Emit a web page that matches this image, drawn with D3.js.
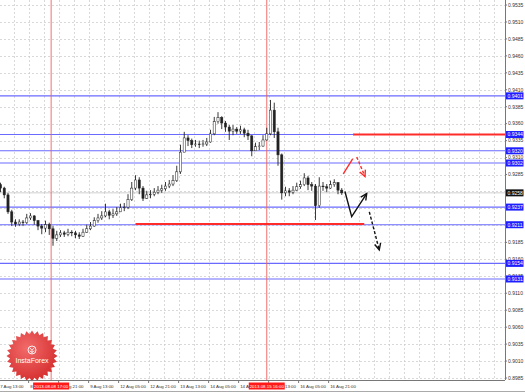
<!DOCTYPE html>
<html>
<head>
<meta charset="utf-8">
<script src="https://cdn.jsdelivr.net/npm/d3@7"></script>
<style>
  body { margin: 0; background: #fff; }
  text { font-family: "Liberation Sans", Arial, sans-serif; }
</style>
</head>
<body>
<script>
// 2-hour candles, USD/CHF-like quotes
const opens = [0.9270,0.9265,0.9255,0.9230,0.9215,0.9212,0.9215,0.9214,0.9221,0.9224,
  0.9217,0.9209,0.9206,0.9211,0.9205,0.9191,0.9196,0.9199,0.9197,0.9200,
  0.9199,0.9196,0.9194,0.9200,0.9205,0.9209,0.9217,0.9221,0.9224,0.9230,
  0.9225,0.9227,0.9230,0.9236,0.9237,0.9248,0.9265,0.9277,0.9265,0.9250,
  0.9255,0.9256,0.9259,0.9262,0.9264,0.9268,0.9271,0.9276,0.9289,0.9318,
  0.9339,0.9335,0.9329,0.9330,0.9329,0.9330,0.9333,0.9345,0.9363,0.9369,
  0.9361,0.9355,0.9349,0.9352,0.9349,0.9351,0.9346,0.9342,0.9320,0.9326,
  0.9327,0.9336,0.9345,0.9380,0.9348,0.9314,0.9258,0.9261,0.9259,0.9262,
  0.9267,0.9270,0.9280,0.9270,0.9268,0.9239,0.9268,0.9267,0.9265,0.9270,
  0.9273,0.9262];
const highs = [0.9273,0.9267,0.9258,0.9233,0.9219,0.9219,0.9218,0.9227,0.9228,0.9225,
  0.9218,0.9212,0.9217,0.9214,0.9209,0.9202,0.9203,0.9202,0.9205,0.9203,
  0.9202,0.9200,0.9205,0.9211,0.9215,0.9222,0.9227,0.9231,0.9242,0.9233,
  0.9234,0.9237,0.9242,0.9243,0.9256,0.9274,0.9284,0.9281,0.9268,0.9261,
  0.9262,0.9265,0.9268,0.9270,0.9274,0.9277,0.9284,0.9298,0.9329,0.9348,
  0.9343,0.9338,0.9336,0.9335,0.9336,0.9339,0.9351,0.9370,0.9377,0.9371,
  0.9364,0.9358,0.9358,0.9355,0.9357,0.9354,0.9351,0.9343,0.9332,0.9333,
  0.9343,0.9354,0.9395,0.9391,0.9354,0.9316,0.9267,0.9265,0.9268,0.9273,
  0.9276,0.9287,0.9283,0.9274,0.9271,0.9281,0.9274,0.9271,0.9276,0.9278,
  0.9274,0.9265];
const lows = [0.9259,0.9250,0.9227,0.9209,0.9208,0.9209,0.9209,0.9212,0.9218,0.9211,
  0.9203,0.9197,0.9200,0.9196,0.9180,0.9187,0.9193,0.9193,0.9194,0.9194,
  0.9191,0.9190,0.9193,0.9199,0.9203,0.9208,0.9214,0.9218,0.9222,0.9219,
  0.9221,0.9224,0.9230,0.9231,0.9234,0.9246,0.9262,0.9256,0.9246,0.9249,
  0.9250,0.9253,0.9256,0.9258,0.9261,0.9265,0.9268,0.9274,0.9286,0.9318,
  0.9327,0.9324,0.9326,0.9324,0.9326,0.9327,0.9332,0.9343,0.9360,0.9352,
  0.9348,0.9336,0.9343,0.9345,0.9345,0.9340,0.9336,0.9312,0.9320,0.9321,
  0.9326,0.9335,0.9343,0.9339,0.9298,0.9248,0.9253,0.9253,0.9256,0.9261,
  0.9264,0.9268,0.9262,0.9261,0.9218,0.9236,0.9261,0.9259,0.9264,0.9267,
  0.9256,0.9255];
const closes = [0.9265,0.9255,0.9230,0.9215,0.9212,0.9215,0.9214,0.9221,0.9224,0.9217,
  0.9209,0.9206,0.9211,0.9205,0.9191,0.9196,0.9199,0.9197,0.9200,0.9199,
  0.9196,0.9194,0.9200,0.9205,0.9209,0.9217,0.9221,0.9224,0.9230,0.9225,
  0.9227,0.9230,0.9236,0.9237,0.9248,0.9265,0.9277,0.9265,0.9250,0.9255,
  0.9256,0.9259,0.9262,0.9264,0.9268,0.9271,0.9276,0.9289,0.9318,0.9339,
  0.9335,0.9329,0.9330,0.9329,0.9330,0.9333,0.9345,0.9363,0.9369,0.9361,
  0.9355,0.9349,0.9352,0.9349,0.9351,0.9346,0.9342,0.9320,0.9326,0.9327,
  0.9336,0.9345,0.9380,0.9348,0.9314,0.9258,0.9261,0.9259,0.9262,0.9267,
  0.9270,0.9280,0.9270,0.9268,0.9239,0.9268,0.9267,0.9265,0.9270,0.9273,
  0.9262,0.9258];

const priceTicks = [0.9535,0.9510,0.9485,0.9460,0.9435,0.9410,0.9385,0.9360,0.9335,0.9310,
  0.9285,0.9260,0.9235,0.9210,0.9185,0.9160,0.9135,0.9110,0.9085,0.9060,0.9035,0.9010,0.8985];
const timeLabels = ["7 Aug 13:00","8 Aug 05:00","8 Aug 21:00","9 Aug 13:00","12 Aug 05:00","12 Aug 21:00",
  "13 Aug 13:00","14 Aug 05:00","14 Aug 21:00","15 Aug 13:00","16 Aug 05:00","16 Aug 21:00"];
const timeLabelHours = [-1,15,31,47,63,79,95,111,127,143,159,175];   // trading hours from 7 Aug 14:00

const levels = [0.9401,0.9344,0.9320,0.9302,0.9237,0.9211,0.9154,0.9131];
const lastPrice = 0.9258;
const markerLabels = ["2013.08.08 17:00","2013.08.15 16:00"];
const markerHours = [27,142];
const redLevels = [0.9344,0.9212];
const redFrom = [188,72];
const redTo = [270,194];

// hand-drawn forecast arrows: [hour, price]
const arrowRedUp = [[182.8,0.9286],[187.8,0.9308]];
const arrowRedDown = [[190,0.9311],[194.4,0.9282]];
const arrowBlackZig = [[183.7,0.9260],[187.3,0.9223],[195.3,0.9257]];
const arrowBlackDown = [[196.7,0.9230],[202,0.9174]];

const W = 525, H = 392;
const plotRight = 505, plotBottom = 380;
const x = d3.scaleLinear([0,184],[0.5,345.5]);
const y = d3.scaleLinear([0.8985,0.9535],[378,5]);

const svg = d3.select("body").append("svg").attr("width",W).attr("height",H);

// grid
svg.append("g").selectAll("line").data(priceTicks).join("line")
  .attr("x1",0).attr("x2",plotRight).attr("y1",d => Math.round(y(d))+0.5).attr("y2",d => Math.round(y(d))+0.5)
  .attr("stroke","#c8c8c8").attr("stroke-width",0.7).attr("stroke-dasharray","2,2");
svg.append("g").selectAll("line").data(d3.range(-1,270,8)).join("line")
  .attr("x1",d => Math.round(x(d))+0.5).attr("x2",d => Math.round(x(d))+0.5)
  .attr("y1",0).attr("y2",plotBottom)
  .attr("stroke","#c8c8c8").attr("stroke-width",0.7).attr("stroke-dasharray","2,2");

// blue levels
svg.append("g").selectAll("line").data(levels).join("line")
  .attr("x1",0).attr("x2",plotRight).attr("y1",d => y(d)).attr("y2",d => y(d))
  .attr("stroke","#6a6aff").attr("stroke-width",1.1);

// bid line
svg.append("line").attr("x1",0).attr("x2",plotRight).attr("y1",y(lastPrice)).attr("y2",y(lastPrice))
  .attr("stroke","#c4c4c4").attr("stroke-width",0.8);

// red vertical markers
svg.append("g").selectAll("line").data(markerHours).join("line")
  .attr("x1",d => x(d)).attr("x2",d => x(d)).attr("y1",0).attr("y2",plotBottom)
  .attr("stroke","#f06060").attr("stroke-width",0.9);

// candles
const candles = svg.append("g");
opens.forEach((o,i) => {
  const cx = x(i*2), c = closes[i];
  candles.append("line").attr("x1",cx).attr("x2",cx).attr("y1",y(highs[i])).attr("y2",y(lows[i]))
    .attr("stroke","#222").attr("stroke-width",0.9);
  const top = y(Math.max(o,c)), bot = y(Math.min(o,c));
  candles.append("rect").attr("x",cx-1.1).attr("width",2.2)
    .attr("y",top).attr("height",Math.max(0.6,bot-top))
    .attr("fill",c >= o ? "#fff" : "#222").attr("stroke","#222").attr("stroke-width",0.5);
});

// red level segments
svg.append("g").selectAll("line").data(redLevels).join("line")
  .attr("x1",(d,i) => x(redFrom[i])).attr("x2",(d,i) => Math.min(plotRight,x(redTo[i])))
  .attr("y1",d => y(d)).attr("y2",d => y(d))
  .attr("stroke","#ff2a2a").attr("stroke-width",2);

// arrows
function drawArrow(pts, color, dashed, head) {
  const line = d3.line().x(d => x(d[0])).y(d => y(d[1]));
  svg.append("path").attr("d",line(pts)).attr("fill","none").attr("stroke",color)
    .attr("stroke-width",1.4).attr("stroke-dasharray",dashed ? "3,2" : null);
  if (!head) return;
  const a = pts[pts.length-2], b = pts[pts.length-1];
  const x1 = x(a[0]), y1 = y(a[1]), x2 = x(b[0]), y2 = y(b[1]);
  const ang = Math.atan2(y2-y1,x2-x1), len = 7;
  const p = [-0.45,0.45].map(s => [x2 - len*Math.cos(ang+s), y2 - len*Math.sin(ang+s)]);
  svg.append("path").attr("d",`M${p[0]}L${x2},${y2}L${p[1]}`).attr("fill","none")
    .attr("stroke",color).attr("stroke-width",1.4);
}
drawArrow(arrowRedUp,"#ff2a2a",false,false);
drawArrow(arrowRedDown,"#ff2a2a",true,true);
drawArrow(arrowBlackZig,"#111",false,true);
drawArrow(arrowBlackDown,"#111",true,true);

// logo seal
const defs = svg.append("defs");
const grad = defs.append("radialGradient").attr("id","seal").attr("cx","40%").attr("cy","35%").attr("r","70%");
grad.append("stop").attr("offset","0%").attr("stop-color","#f26a6a");
grad.append("stop").attr("offset","100%").attr("stop-color","#d42c2c");
const sealPts = d3.range(56).map(i => [i/56*2*Math.PI, i%2 ? 22 : 25.5]);
const seal = svg.append("g").attr("transform","translate(32,356)");
seal.append("path").attr("d",d3.lineRadial().curve(d3.curveLinearClosed)(sealPts)).attr("fill","url(#seal)");
seal.append("circle").attr("cy",-6).attr("r",4).attr("fill","none").attr("stroke","#fff").attr("stroke-width",0.9);
seal.append("path").attr("d","M-2.2,-8.2L0,-5.8L2.2,-8.2M0,-5.8V-2.6M-2.4,-5.2L0,-3.6L2.4,-5.2")
  .attr("fill","none").attr("stroke","#fff").attr("stroke-width",0.8);
seal.append("text").attr("y",7).attr("text-anchor","middle").attr("fill","#fff")
  .attr("font-size",7).text("InstaForex");

// axes frame
svg.append("line").attr("x1",plotRight+0.5).attr("x2",plotRight+0.5).attr("y1",0).attr("y2",plotBottom)
  .attr("stroke","#777").attr("stroke-width",1);
svg.append("line").attr("x1",0).attr("x2",plotRight).attr("y1",plotBottom+0.5).attr("y2",plotBottom+0.5)
  .attr("stroke","#777").attr("stroke-width",1);
svg.append("line").attr("x1",0).attr("x2",W).attr("y1",H-0.5).attr("y2",H-0.5)
  .attr("stroke","#aaa").attr("stroke-width",1);

// price axis: tick labels sitting right under a level label are hidden, as in the terminal
const boxed = levels.concat([lastPrice]);
const shownTicks = priceTicks.filter(t => d3.min(boxed, b => Math.abs(y(b)-y(t))) > 2.5);
const pAxis = svg.append("g");
pAxis.selectAll("line").data(priceTicks).join("line")
  .attr("x1",plotRight).attr("x2",plotRight+2).attr("y1",d => y(d)).attr("y2",d => y(d)).attr("stroke","#777");
pAxis.selectAll("text").data(shownTicks).join("text")
  .attr("x",plotRight+3).attr("y",d => y(d)+1.8).attr("font-size",5).attr("fill","#333")
  .text(d => d.toFixed(4));

// level labels
const lvl = svg.append("g").selectAll("g").data(levels).join("g")
  .attr("transform",d => `translate(${plotRight+1},${y(d)})`);
lvl.append("rect").attr("x",0).attr("y",-3.5).attr("width",17.5).attr("height",7).attr("fill","#1e1eff");
lvl.append("text").attr("x",1.5).attr("y",1.8).attr("font-size",5).attr("fill","#fff").text(d => d.toFixed(4));
const lp = svg.append("g").attr("transform",`translate(${plotRight+1},${y(lastPrice)})`);
lp.append("rect").attr("y",-3.5).attr("width",17.5).attr("height",7).attr("fill","#111");
lp.append("text").attr("x",1.5).attr("y",1.8).attr("font-size",5).attr("fill","#fff").text(lastPrice.toFixed(4));

// time axis
const tAxis = svg.append("g");
tAxis.selectAll("line").data(timeLabelHours).join("line")
  .attr("x1",d => x(d)).attr("x2",d => x(d)).attr("y1",plotBottom).attr("y2",plotBottom+3).attr("stroke","#777");
tAxis.selectAll("text").data(timeLabels).join("text")
  .attr("x",(d,i) => x(timeLabelHours[i])+1.5).attr("y",388).attr("font-size",4.4).attr("fill","#333")
  .text(d => d);

const mk = svg.append("g").selectAll("g").data(markerLabels).join("g")
  .attr("transform",(d,i) => `translate(${x(markerHours[i])},0)`);
mk.append("rect").attr("x",-18).attr("y",382.5).attr("width",36).attr("height",7).attr("fill","#ff1a1a");
mk.append("text").attr("y",388).attr("text-anchor","middle").attr("font-size",4.4).attr("fill","#fff").text(d => d);
</script>
</body>
</html>
